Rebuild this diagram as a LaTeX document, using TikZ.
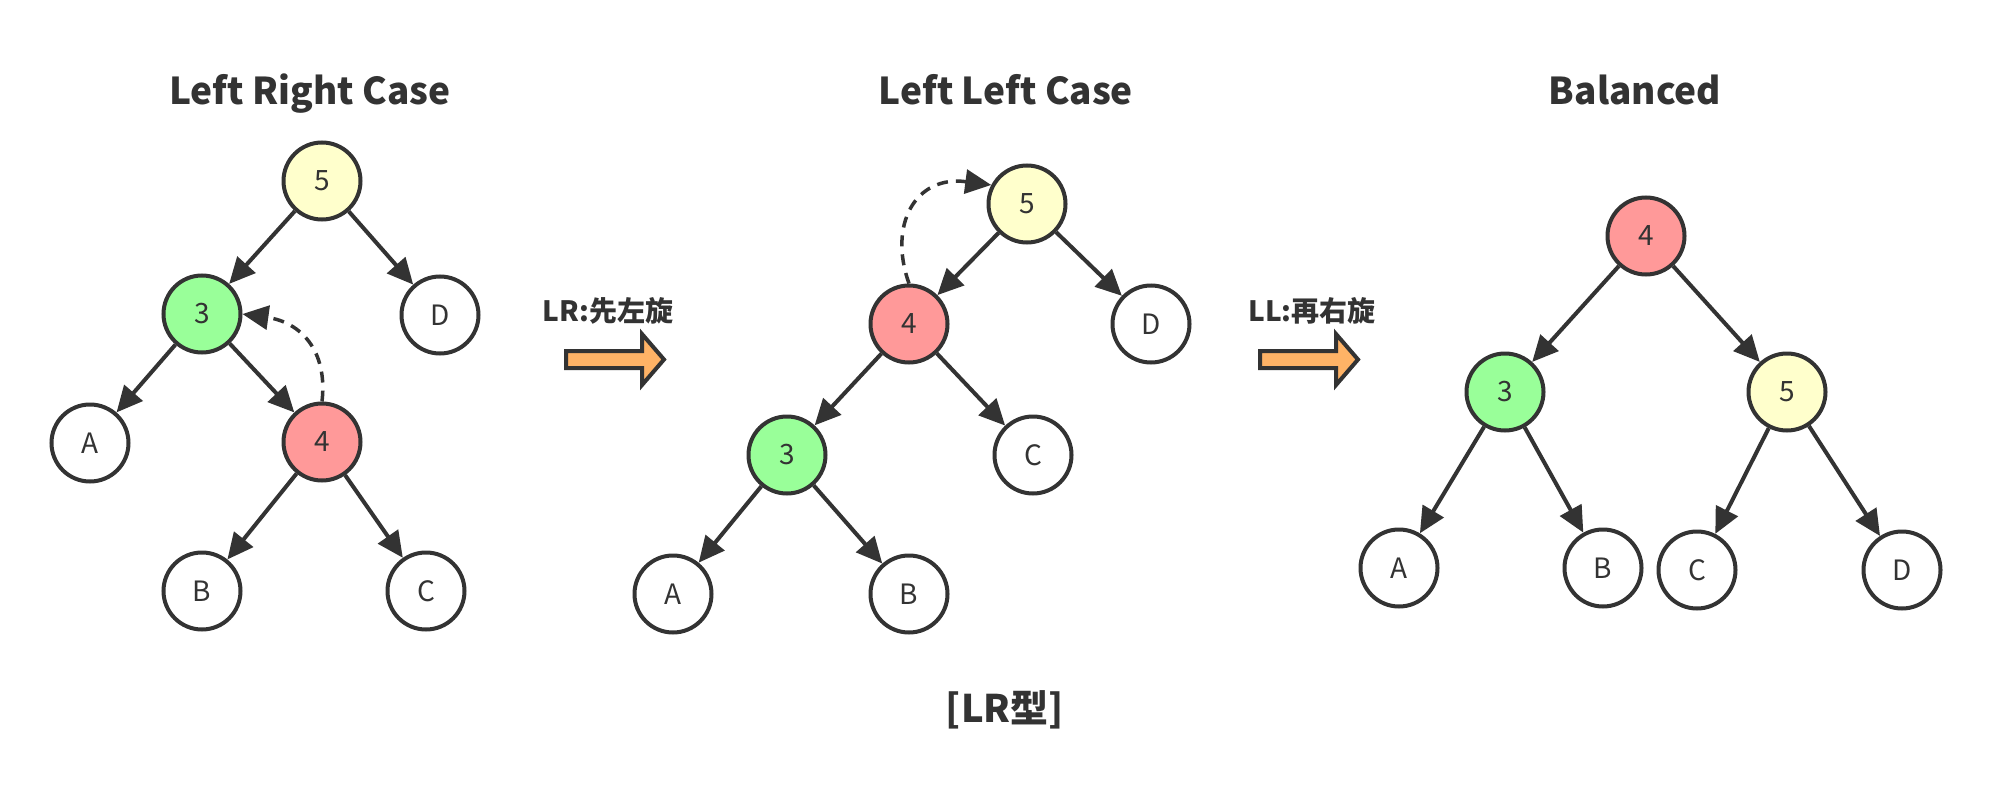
\documentclass[tikz,border=0pt]{standalone}
\usepackage{fontspec}
\setmainfont{Noto Sans CJK SC}
\usetikzlibrary{arrows.meta}
\definecolor{ink}{HTML}{333333}
\definecolor{cyellow}{HTML}{FFFFCC}
\definecolor{cgreen}{HTML}{99FF99}
\definecolor{cred}{HTML}{FF9999}
\definecolor{corange}{HTML}{FFB366}
\begin{document}
\begin{tikzpicture}[x=1pt,y=-1pt,
  tnode/.style={circle,draw=ink,line width=4pt,minimum size=77pt,inner sep=0pt,
    text=ink,font=\fontsize{28}{28}\selectfont},
  yel/.style={tnode,fill=cyellow},
  grn/.style={tnode,fill=cgreen},
  rd/.style={tnode,fill=cred},
  wht/.style={tnode,fill=white},
  edge/.style={draw=ink,line width=4pt,-{Triangle[length=26pt,width=24pt]}},
  dashedge/.style={draw=ink,line width=3.5pt,dash pattern=on 11pt off 8pt,
    -{Triangle[length=26pt,width=24pt]}},
  title/.style={anchor=base,text=ink,font=\fontsize{37}{37}\selectfont\bfseries},
  steplabel/.style={anchor=base,text=ink,font=\fontsize{28}{28}\selectfont\bfseries},
  blockarrow/.style={draw=ink,fill=corange,line width=4pt,line join=miter}
]
\fill[white] (0,0) rectangle (1992,800);
\useasboundingbox (0,0) rectangle (1992,800);

% titles
\node[title] (t1) at (310,104) {Left Right Case};
\node[title] (t2) at (1006,104) {Left Left Case};
\node[title] (t3) at (1635,104) {Balanced};

% left tree
\node[yel] (l5) at (322,181) {5};
\node[grn] (l3) at (202,314) {3};
\node[wht] (lD) at (440,315) {D};
\node[wht] (lA) at (90,443) {A};
\node[rd]  (l4) at (322,442) {4};
\node[wht] (lB) at (202,591) {B};
\node[wht] (lC) at (426,591) {C};
\draw[edge] (l5) -- (l3);
\draw[edge] (l5) -- (lD);
\draw[edge] (l3) -- (lA);
\draw[edge] (l3) -- (l4);
\draw[edge] (l4) -- (lB);
\draw[edge] (l4) -- (lC);
\draw[dashedge] (l4.north) .. controls (328,350) and (300,322) .. (l3.east);

% middle tree
\node[yel] (m5) at (1027,204) {5};
\node[rd]  (m4) at (909,324) {4};
\node[wht] (mD) at (1151,324) {D};
\node[grn] (m3) at (787,455) {3};
\node[wht] (mC) at (1033,455) {C};
\node[wht] (mA) at (673,594) {A};
\node[wht] (mB) at (909,594) {B};
\draw[edge] (m5) -- (m4);
\draw[edge] (m5) -- (mD);
\draw[edge] (m4) -- (m3);
\draw[edge] (m4) -- (mC);
\draw[edge] (m3) -- (mA);
\draw[edge] (m3) -- (mB);
\draw[dashedge] (m4.north) .. controls (888,225) and (915,175) .. (m5.152);

% right tree
\node[rd]  (r4) at (1646,236) {4};
\node[grn] (r3) at (1505,392) {3};
\node[yel] (r5) at (1787,392) {5};
\node[wht] (rA) at (1399,568) {A};
\node[wht] (rB) at (1603,568) {B};
\node[wht] (rC) at (1697,570) {C};
\node[wht] (rD) at (1902,570) {D};
\draw[edge] (r4) -- (r3);
\draw[edge] (r4) -- (r5);
\draw[edge] (r3) -- (rA);
\draw[edge] (r3) -- (rB);
\draw[edge] (r5) -- (rC);
\draw[edge] (r5) -- (rD);

% step arrows
\node[steplabel] (s1) at (608,321) {LR:先左旋};
\draw[blockarrow] (566,351) -- (642,351) -- (642,334) -- (664,359.5) -- (642,385) -- (642,368) -- (566,368) -- cycle;
\node[steplabel] (s2) at (1312,321) {LL:再右旋};
\draw[blockarrow] (1260,351) -- (1336,351) -- (1336,334) -- (1358,359.5) -- (1336,385) -- (1336,368) -- (1260,368) -- cycle;

% caption
\node[title,font=\fontsize{38}{38}\selectfont\bfseries] (cap) at (1005,722) {[LR型]};
\end{tikzpicture}
\end{document}
